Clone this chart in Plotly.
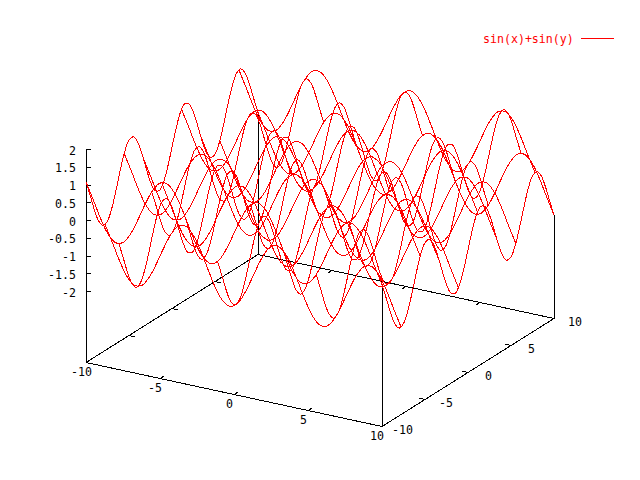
import plotly.graph_objects as go

# sample positions along each isoline
axis_samples = [-10 + 0.5 * i for i in range(41)]
# height contributed along an isoline
wave = [0.544, 0.075, -0.412, -0.798, -0.989, -0.938, -0.657, -0.215, 0.279, 0.706,
        0.959, 0.978, 0.757, 0.351, -0.141, -0.598, -0.909, -0.997, -0.841, -0.479,
        0.0, 0.479, 0.841, 0.997, 0.909, 0.598, 0.141, -0.351, -0.757, -0.978,
        -0.959, -0.706, -0.279, 0.215, 0.657, 0.938, 0.989, 0.798, 0.412, -0.075, -0.544]
# isoline positions and the height offset of each
iso_positions = [-10, -7.778, -5.556, -3.333, -1.111, 1.111, 3.333, 5.556, 7.778, 10]
iso_offsets = [0.544, -0.997, 0.665, 0.190, -0.896, 0.896, -0.190, -0.665, 0.997, -0.544]

x_ticks = [-10, -5, 0, 5, 10]
y_ticks = [-10, -5, 0, 5, 10]
z_ticks = [-2, -1.5, -1, -0.5, 0, 0.5, 1, 1.5, 2]
z_tick_labels = ["-2", "-1.5", "-1", "-0.5", "0", "0.5", "1", "1.5", "2"]
legend_label = "sin(x)+sin(y)"

RED = "#ff0000"
BLACK = "#000000"
FONT = dict(family="DejaVu Sans Mono", size=11.6, color=BLACK)


def project(x, y, z):
    """View 60,30 of the box onto the page, in page pixels."""
    return (320 + 14.8 * x + 8.6 * y,
            340.5 + 3.2 * x - 5.4 * y - 35.5 * (z + 4))


fig = go.Figure()


def page_line(xs, ys, color=BLACK, shape="linear"):
    fig.add_trace(go.Scatter(x=xs, y=ys, mode="lines",
                             line=dict(color=color, width=1, shape=shape),
                             hoverinfo="skip", showlegend=False))


def line3(pts, color=BLACK, shape="linear"):
    p = [project(*q) for q in pts]
    page_line([a for a, _ in p], [b for _, b in p], color, shape)


# box
B = -4
line3([(-10, -10, B), (10, -10, B), (10, 10, B), (-10, 10, B), (-10, -10, B)])
# z axis, then the verticals that rise from the base corners to the surface
line3([(-10, -10, B), (-10, -10, 2)])
line3([(10, -10, B), (10, -10, iso_offsets[-1] + wave[0])])
line3([(-10, 10, B), (-10, 10, iso_offsets[0] + wave[-1])])
line3([(10, 10, B), (10, 10, iso_offsets[-1] + wave[-1])])

# ticks
ann = []
for t in x_ticks:
    line3([(t, -10, B), (t, -9.5, B)])
    line3([(t, 10, B), (t, 9.5, B)])
    sx, sy = project(t, -10, B)
    ann.append((sx - 5, sy + 9.5, str(t), "center", BLACK))
for t in y_ticks:
    line3([(-10, t, B), (-9.6, t, B)])
    line3([(10, t, B), (9.6, t, B)])
    sx, sy = project(10, t, B)
    ann.append((sx + 20.5, sy + 3.5, str(t), "center", BLACK))
for t, lab in zip(z_ticks, z_tick_labels):
    sx, sy = project(-10, -10, t)
    page_line([sx, sx + 5], [sy, sy])
    ann.append((sx - 9, sy + 1, lab, "right", BLACK))

# surface isolines
for pos, off in zip(iso_positions, iso_offsets):
    zs = [off + w for w in wave]
    line3([(pos, s, z) for s, z in zip(axis_samples, zs)], RED, "spline")
    line3([(s, pos, z) for s, z in zip(axis_samples, zs)], RED, "spline")

# key
page_line([581, 614], [38, 38], RED)
ann.append((575, 39, legend_label, "right", RED))

for ax_, ay_, text, anchor, col in ann:
    fig.add_annotation(x=ax_, y=ay_, text=text, showarrow=False, xanchor=anchor,
                       yanchor="middle", font=dict(FONT, color=col), xref="x", yref="y",
                       borderpad=0)

fig.update_layout(width=640, height=480, margin=dict(l=0, r=0, t=0, b=0),
                  plot_bgcolor="white", paper_bgcolor="white", showlegend=False,
                  xaxis=dict(range=[0, 640], visible=False, fixedrange=True),
                  yaxis=dict(range=[480, 0], visible=False, fixedrange=True))
fig.write_html("out.html", config=dict(displayModeBar=False),
               post_script="document.body.style.margin='0';"
                           "document.querySelectorAll('.scatterlayer path')"
                           ".forEach(function(p){p.style.shapeRendering='crispEdges';});")
